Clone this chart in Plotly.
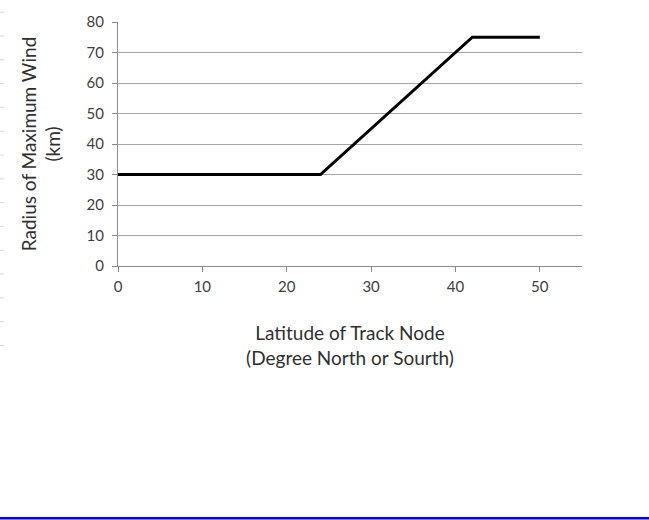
import plotly.graph_objects as go

latitude = [0, 24, 42, 50]
rmw_km = [30, 30, 75, 75]
x_ticks = [0, 10, 20, 30, 40, 50]
y_ticks = [0, 10, 20, 30, 40, 50, 60, 70, 80]

W, H = 649, 520
L, R, T, B = 118, 67, 18, 254
pw, ph = W - L - R, H - T - B

def px_x(p):
    return (p - L) / pw

def px_y(p):
    return (H - B - p) / ph

fig = go.Figure()
fig.add_trace(go.Scatter(x=latitude, y=rmw_km, mode="lines",
                         line=dict(color="black", width=3), showlegend=False,
                         hoverinfo="skip"))

shapes = []
shapes.append(dict(type="line", xref="paper", yref="paper",
                   x0=px_x(0), x1=px_x(W), y0=px_y(522.5), y1=px_y(522.5),
                   line=dict(color="#0000ff", width=2.5)))
for k in range(15):
    yy = 8 + 24.2 * k
    shapes.append(dict(type="line", xref="paper", yref="paper",
                       x0=px_x(0), x1=px_x(4), y0=px_y(yy), y1=px_y(yy),
                       line=dict(color="#d8d8d8", width=1)))

font_family = "Lato, Roboto, sans-serif"
fig.update_layout(
    width=W, height=H,
    margin=dict(l=L, r=R, t=T, b=B, pad=0),
    paper_bgcolor="white", plot_bgcolor="white",
    font=dict(family=font_family, color="#404040", size=15),
    shapes=shapes,
    xaxis=dict(range=[0, 55], tickvals=x_ticks, showgrid=False, zeroline=False,
               showline=True, linecolor="#8c8c8c", linewidth=1,
               ticks="outside", ticklen=5, tickcolor="#8c8c8c",
               tickfont=dict(size=15, color="#404040"), ticklabelstandoff=2,
               title=dict(text="Latitude of Track Node<br>(Degree North or Sourth)",
                          font=dict(size=19, color="#303030"), standoff=32)),
    yaxis=dict(range=[0, 80], tickvals=y_ticks, showgrid=True, gridcolor="#a6a6a6",
               gridwidth=1, zeroline=False, showline=True, linecolor="#8c8c8c",
               linewidth=1, ticks="outside", ticklen=5, tickcolor="#8c8c8c",
               tickfont=dict(size=15, color="#404040"), ticklabelstandoff=5,
               title=dict(text="Radius of Maximum Wind<br>(km)",
                          font=dict(size=19, color="#303030"), standoff=20)),
)

fig.write_html("out.html", config={"displayModeBar": False},
               post_script="document.body.style.margin='0';document.documentElement.style.overflow='hidden';")
